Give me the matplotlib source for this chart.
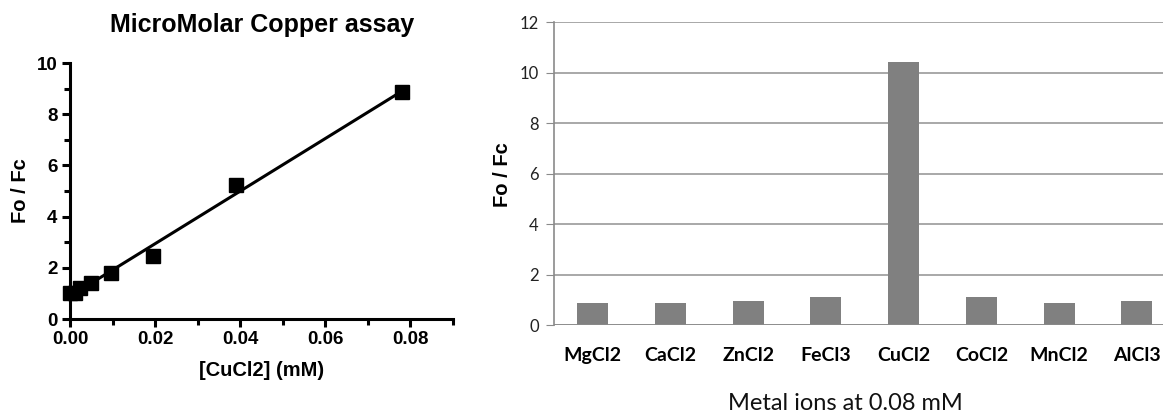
import numpy as np
import matplotlib
matplotlib.use("Agg")
import matplotlib.pyplot as plt
from matplotlib.ticker import MultipleLocator

# Left panel data: copper titration
cu_conc = [0.0, 0.0012, 0.0024, 0.0049, 0.00975, 0.0195, 0.039, 0.078]
fo_fc = [1.0, 1.02, 1.22, 1.42, 1.80, 2.46, 5.22, 8.85]

# Right panel data: metal ion selectivity
metals = ["MgCl2", "CaCl2", "ZnCl2", "FeCl3", "CuCl2", "CoCl2", "MnCl2", "AlCl3"]
metal_vals = [0.89, 0.89, 0.95, 1.10, 10.42, 1.10, 0.89, 0.95]

W, H = 1163, 415
fig = plt.figure(figsize=(W / 100, H / 100), dpi=100)

arial = "Liberation Sans"
cal = "Lato"

# ---------- Left panel ----------
axL = fig.add_axes([70 / W, 1 - 319 / H, (453 - 70) / W, (319 - 63) / H])
axL.plot(cu_conc, fo_fc, "s", color="black", markersize=9.5, zorder=3, clip_on=False)
slope, intercept = np.polyfit(cu_conc, fo_fc, 1)
xfit = np.array([min(cu_conc), max(cu_conc)])
axL.plot(xfit, slope * xfit + intercept, color="black", lw=2.2)
axL.set_xlim(0, 0.09)
axL.set_ylim(0, 10)
axL.xaxis.set_minor_locator(MultipleLocator(0.01))
axL.yaxis.set_major_locator(MultipleLocator(2))
axL.yaxis.set_minor_locator(MultipleLocator(1))
axL.set_xticks([0, 0.02, 0.04, 0.06, 0.08])
axL.set_xticklabels(["0.00", "0.02", "0.04", "0.06", "0.08"])
for s in ["top", "right"]:
    axL.spines[s].set_visible(False)
for s in ["left", "bottom"]:
    axL.spines[s].set_linewidth(2.2)
axL.tick_params(which="major", direction="out", length=6, width=2.2, labelsize=13.5, pad=3)
axL.tick_params(which="minor", direction="out", length=4, width=2.2)
for lab in axL.get_xticklabels() + axL.get_yticklabels():
    lab.set_fontfamily(arial)
    lab.set_fontweight("bold")
fig.text(262 / W, 1 - 25 / H, "MicroMolar Copper assay", fontfamily=arial,
         fontweight="bold", fontsize=18, ha="center", va="center")
fig.text(262 / W, 1 - 370 / H, "[CuCl2] (mM)", fontfamily=arial,
         fontweight="bold", fontsize=14.5, ha="center", va="center")
fig.text(20 / W, 1 - 191 / H, "Fo / Fc", fontfamily=arial, fontweight="bold",
         fontsize=14.5, rotation=90, ha="center", va="center")

# ---------- Right panel ----------
spacing = 77.7
left_px = 554
axR = fig.add_axes([left_px / W, 1 - 325 / H, 8 * spacing / W, (325 - 22) / H])
x = np.arange(len(metals))
axR.bar(x, metal_vals, width=0.4, color="#808080", zorder=3)
axR.set_xlim(-0.5, 7.5)
axR.set_ylim(0, 12)
axR.set_yticks(range(0, 13, 2))
axR.yaxis.grid(True, color="#9a9a9a", lw=1.2)
axR.set_axisbelow(True)
for s in ["top", "right", "bottom"]:
    axR.spines[s].set_visible(False)
axR.spines["left"].set_color("#8a8a8a")
axR.spines["left"].set_linewidth(1.2)
axR.axhline(0, color="#8a8a8a", lw=1.2, zorder=4)
axR.set_xticks(x)
axR.set_xticklabels(metals, fontfamily=cal, fontweight="bold", fontsize=14)
axR.tick_params(axis="x", length=0, pad=16)
axR.tick_params(axis="y", length=6, color="#8a8a8a", labelsize=12, pad=5)
for lab in axR.get_yticklabels():
    lab.set_fontfamily(cal)
    lab.set_color("#222222")
fig.text(845 / W, 1 - 403 / H, "Metal ions at 0.08 mM", fontfamily=cal,
         fontsize=17, ha="center", va="center", color="#111111")
fig.text(502 / W, 1 - 175 / H, "Fo / Fc", fontfamily=arial, fontweight="bold",
         fontsize=14.5, rotation=90, ha="center", va="center")

fig.savefig("out.png", dpi=100)
